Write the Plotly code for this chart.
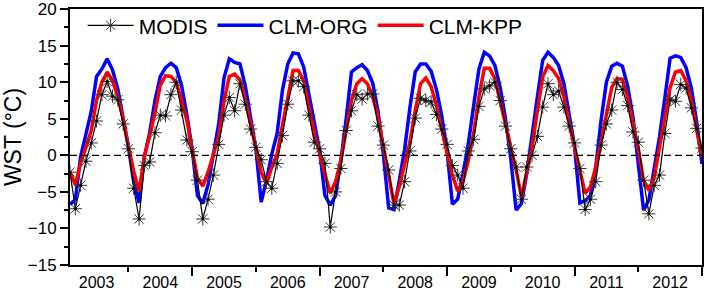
import plotly.graph_objects as go

years = ["2003", "2004", "2005", "2006", "2007", "2008", "2009", "2010", "2011", "2012"]

modis = [
    -2.3, -7.3, -4.1, -0.8, 1.7, 4.7, 8.3, 10.1, 8.1, 7.6, 4.3, 0.9,
    -4.5, -8.7, -1.4, -0.9, 3.1, 5.5, 5.4, 8.3, 10.0, 6.2, 2.1, 0.5,
    -3.4, -8.7, -6.0, -2.7, 1.5, 5.5, 7.9, 6.1, 9.8, 7.0, 3.6, 1.1,
    -0.6, -3.6, -4.5, -1.1, 2.7, 7.0, 10.2, 10.2, 9.4, 5.5, 1.8, 0.9,
    -1.1, -9.8, -5.0, -1.8, 3.4, 6.1, 8.3, 7.7, 8.4, 8.4, 4.0, 1.4,
    -2.0, -6.8, -6.8, -3.6, 0.6, 5.1, 7.8, 7.5, 7.3, 5.6, 3.6, 1.5,
    -1.4, -2.7, -4.5, 0.6, 2.2, 6.7, 9.1, 9.5, 10.0, 7.5, 4.0, 0.9,
    -1.6, -6.0, -1.6, 0.0, 2.6, 6.6, 9.8, 8.3, 8.8, 6.6, 4.0, 1.7,
    -1.8, -7.4, -6.0, -3.6, 1.4, 4.3, 6.2, 10.0, 9.0, 6.8, 3.2, 1.8,
    -3.4, -8.0, -4.1, -2.7, 3.0, 7.6, 7.4, 9.7, 9.2, 6.5, 3.7, 1.0,
]

clm_org = [
    -6.7, -6.1, -0.2, 3.0, 6.0, 10.8, 11.8, 13.2, 11.7, 9.1, 5.3, 1.1,
    -3.6, -6.5, -0.2, 3.1, 7.5, 10.8, 12.0, 12.6, 12.0, 9.6, 5.5, 0.9,
    -5.5, -6.6, -4.0, 0.5, 4.3, 10.6, 13.2, 12.7, 12.5, 9.5, 5.5, 0.9,
    -6.4, -3.4, 0.2, 3.0, 8.9, 12.5, 14.0, 13.9, 12.1, 8.4, 4.3, 0.7,
    -5.5, -6.8, -5.5, -0.7, 5.0, 11.4, 12.0, 12.4, 11.6, 9.9, 6.0, 0.2,
    -7.2, -7.4, -3.5, 0.8, 6.5, 11.4, 12.5, 12.5, 11.5, 9.0, 5.4, 0.6,
    -6.7, -6.0, -2.5, 1.6, 6.8, 11.8, 14.1, 13.6, 12.3, 9.3, 5.0, -0.5,
    -7.5, -6.6, -2.5, 3.0, 8.0, 13.0, 14.1, 13.4, 12.3, 9.8, 5.7, 1.2,
    -6.5, -6.2, -5.5, -1.6, 4.8, 10.0, 12.2, 12.6, 12.2, 9.5, 5.2, -0.8,
    -7.5, -6.1, -2.0, 2.5, 7.8, 13.3, 13.6, 13.4, 12.0, 9.2, 4.5, -1.2,
]

clm_kpp = [
    -2.3, -4.0, -1.1, 1.2, 3.4, 7.5, 10.0, 11.4, 10.2, 8.0, 5.0, 1.3,
    -2.2, -4.9, -0.2, 2.7, 5.8, 9.6, 10.9, 10.8, 10.0, 7.5, 4.8, 0.8,
    -3.1, -4.2, -2.3, 0.2, 2.5, 7.5, 10.8, 11.1, 10.3, 7.6, 4.5, 1.1,
    -2.3, -3.9, -1.6, 0.2, 4.1, 8.0, 11.6, 11.6, 10.2, 6.6, 3.0, 0.2,
    -2.5, -5.2, -3.6, -0.7, 3.4, 7.5, 9.8, 10.5, 9.8, 8.0, 5.2, 1.2,
    -2.5, -6.6, -4.3, -1.0, 1.8, 6.1, 9.8, 10.6, 9.4, 6.8, 3.3, 0.3,
    -2.7, -4.9, -3.6, -0.7, 3.0, 8.0, 11.9, 11.9, 10.5, 7.5, 4.3, 1.1,
    -2.0, -5.7, -2.5, 1.1, 6.1, 10.7, 12.3, 11.6, 10.5, 8.0, 4.3, 1.1,
    -1.6, -5.2, -4.3, -1.6, 1.8, 5.3, 9.3, 10.5, 10.4, 7.9, 4.5, 0.9,
    -3.5, -4.8, -3.0, 0.9, 4.8, 9.3, 11.4, 11.6, 10.2, 7.5, 3.4, -0.2,
]

y_ticks = [-15, -10, -5, 0, 5, 10, 15, 20]

months = list(range(1, len(modis) + 1))
year_centers = [12 * i + 6 for i in range(len(years))]
year_ends = [12 * (i + 1) for i in range(len(years))]

FONT = "Liberation Sans, Arial, sans-serif"

fig = go.Figure()
fig.add_trace(go.Scatter(x=months, y=clm_org, mode="lines", name="CLM-ORG",
                         line=dict(color="#0000ff", width=3.5), legendrank=2))
fig.add_trace(go.Scatter(x=months, y=clm_kpp, mode="lines", name="CLM-KPP",
                         line=dict(color="#ff0000", width=3.5), legendrank=3))
fig.add_trace(go.Scatter(x=months, y=modis, mode="lines+markers", name="MODIS",
                         xaxis="x2",
                         line=dict(color="black", width=1.2),
                         marker=dict(symbol="asterisk-open", size=11,
                                     color="#333333", line=dict(width=1, color="#333333")),
                         legendrank=1))
fig.add_trace(go.Scatter(x=months, y=modis, mode="markers", showlegend=False,
                         xaxis="x2", hoverinfo="skip",
                         marker=dict(symbol="circle", size=3, color="black")))

fig.add_hline(y=0, line=dict(color="black", width=1.3, dash="7px,4px"))

xr = [months[0], months[-1]]
fig.update_layout(
    width=704, height=293,
    margin=dict(l=70, r=2, t=9, b=28, autoexpand=False),
    paper_bgcolor="white", plot_bgcolor="white",
    font=dict(family=FONT, color="black", size=17),
    showlegend=True,
    legend=dict(orientation="h", x=0.02, y=1.015, xanchor="left", yanchor="top",
                font=dict(size=21), bgcolor="rgba(0,0,0,0)", itemwidth=46,
                tracegroupgap=0),
    xaxis=dict(range=xr, showgrid=False, zeroline=False, automargin=False,
               showline=True, linecolor="black", linewidth=2, mirror=True,
               tickmode="array", tickvals=year_ends[1::2], showticklabels=False,
               ticks="outside", ticklen=9, tickwidth=2, tickcolor="black",
               minor=dict(tickmode="array", tickvals=year_ends[0::2], ticks="outside",
                          ticklen=5, tickwidth=2, tickcolor="black")),
    xaxis2=dict(range=xr, overlaying="x", anchor="y", side="bottom", automargin=False,
                showgrid=False, zeroline=False, showline=False,
                tickmode="array", tickvals=year_centers, ticktext=years,
                ticks="outside", ticklen=3, tickcolor="rgba(0,0,0,0)",
                tickfont=dict(size=16)),
    yaxis=dict(range=[-15, 20.02], showgrid=False, zeroline=False, automargin=False,
               showline=True, linecolor="black", linewidth=2, mirror=True,
               tickmode="array", tickvals=y_ticks,
               ticks="outside", ticklen=8, tickwidth=2, tickcolor="black",
               tickfont=dict(size=17),
               minor=dict(tickmode="linear", tick0=2.5, dtick=5, ticks="outside",
                          ticklen=4, tickwidth=2, tickcolor="black"),
               title=dict(text="WST (°C)", font=dict(size=23), standoff=4)),
)

fig.write_html("out.html", config={"displayModeBar": False},
               post_script="document.body.style.margin='0px';")
